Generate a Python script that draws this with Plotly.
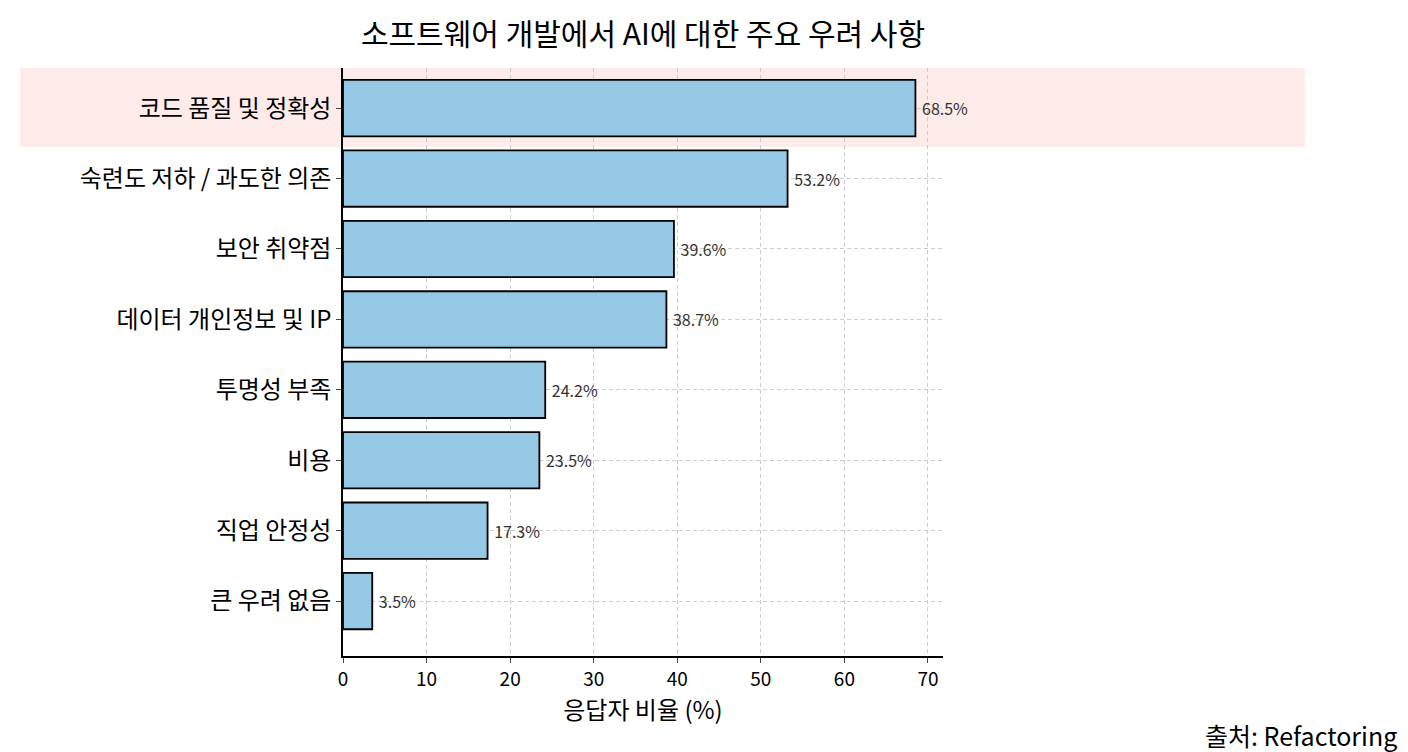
import plotly.graph_objects as go

categories = ["코드 품질 및 정확성", "숙련도 저하 / 과도한 의존", "보안 취약점", "데이터 개인정보 및 IP",
              "투명성 부족", "비용", "직업 안정성", "큰 우려 없음"]
values = [68.5, 53.2, 39.6, 38.7, 24.2, 23.5, 17.3, 3.5]
labels = [f" {v}%" for v in values]

F = "Noto Sans CJK KR"
fig = go.Figure(go.Bar(
    x=values, y=list(range(len(categories))), orientation="h", width=0.8,
    marker=dict(color="#95C8E4", line=dict(color="black", width=1.8)),
    text=labels, textposition="outside", textfont=dict(family=F, size=16, color="#333"),
    cliponaxis=False, hoverinfo="skip"))

fig.add_shape(type="rect", xref="paper", yref="y", x0=-0.538, x1=1.603, y0=-0.57, y1=0.55,
              fillcolor="rgba(250,215,210,0.5)", line_width=0, layer="below")

fig.update_layout(
    width=1408, height=752, plot_bgcolor="white", paper_bgcolor="white",
    margin=dict(l=335, r=473, t=60, b=104, autoexpand=False), showlegend=False,
    font=dict(family=F, color="black"),
    title=dict(text="소프트웨어 개발에서 AI에 대한 주요 우려 사항", x=0.451, xanchor="center",
               y=0.965, yanchor="middle", font=dict(size=30, family=F)),
    xaxis=dict(range=[0, 71.8], dtick=10, showline=True, linecolor="black", linewidth=1.5,
               ticks="outside", ticklen=5, tickfont=dict(size=19), showgrid=True,
               gridcolor="#cccccc", griddash="4px,3px", zeroline=False, automargin=False,
               title=dict(text="응답자 비율 (%)", font=dict(size=24), standoff=6)),
    yaxis=dict(range=[7.78, -0.57], tickvals=list(range(len(categories))), ticktext=categories,
               showline=True, linecolor="black", linewidth=1.5, ticks="outside", ticklen=5,
               tickfont=dict(size=24), showgrid=True, gridcolor="#cccccc", griddash="4px,3px",
               zeroline=False, automargin=False),
    annotations=[dict(text="출처: Refactoring", xref="paper", yref="paper", x=1.76, y=-0.135,
                      xanchor="right", yanchor="middle", showarrow=False, font=dict(size=25, family=F))])

fig.write_html("out.html")
